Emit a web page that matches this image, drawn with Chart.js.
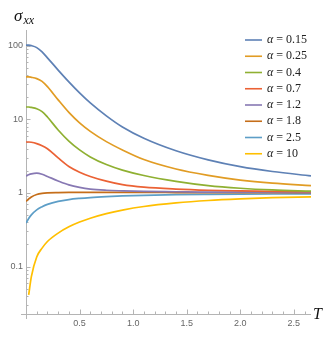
<!DOCTYPE html>
<html>
<head>
<meta charset="utf-8">
<script src="https://cdn.jsdelivr.net/npm/chart.js@4"></script>
<style>
  html, body { margin: 0; padding: 0; background: #fff; }
  #wrap { width: 333px; height: 349px; }
</style>
</head>
<body>
<div id="wrap"><canvas id="chart" width="333" height="349"></canvas></div>
<script>
// --- DATA ---
const T = [0, 0.025, 0.05, 0.1, 0.15, 0.2, 0.3, 0.4, 0.5, 0.6, 0.75, 0.9, 1.1, 1.4, 1.7, 2.0, 2.3, 2.66];

const alphaLabels = ["0.15", "0.25", "0.4", "0.7", "1.2", "1.8", "2.5", "10"];

const sigma015 = [103, 102.5, 101, 95, 83, 69, 47, 32.5, 23, 16.8, 11.2, 7.9, 5.55, 3.75, 2.82, 2.28, 1.96, 1.71];
const sigma025 = [38, 38, 37.5, 36, 33, 28, 18.5, 12.5, 9.0, 6.9, 5.0, 3.85, 2.85, 2.12, 1.74, 1.5, 1.36, 1.26];
const sigma04  = [14.8, 14.8, 14.6, 14, 12.8, 10.8, 7.2, 5.09, 3.86, 3.1, 2.44, 2.05, 1.73, 1.44, 1.26, 1.16, 1.1, 1.06];
const sigma07  = [4.94, 4.94, 4.9, 4.7, 4.4, 4.0, 3.0, 2.3, 1.92, 1.68, 1.45, 1.3, 1.2, 1.13, 1.09, 1.07, 1.055, 1.04];
const sigma12  = [1.7, 1.77, 1.82, 1.86, 1.8, 1.68, 1.46, 1.29, 1.19, 1.13, 1.09, 1.07, 1.05, 1.04, 1.03, 1.03, 1.02, 1.02];
const sigma18  = [0.77, 0.83, 0.885, 0.955, 0.99, 1.005, 1.015, 1.02, 1.02, 1.02, 1.02, 1.02, 1.02, 1.015, 1.01, 1.01, 1.01, 1.01];
const sigma25  = [0.39, 0.45, 0.505, 0.59, 0.65, 0.70, 0.77, 0.815, 0.845, 0.868, 0.893, 0.912, 0.93, 0.948, 0.958, 0.965, 0.97, 0.975];
const sigma10  = [null, 0.041, 0.073, 0.135, 0.178, 0.219, 0.285, 0.347, 0.403, 0.454, 0.524, 0.586, 0.656, 0.733, 0.791, 0.832, 0.863, 0.885];

const colors = ["#5E81B5", "#E19C24", "#8FB032", "#EB6235", "#8778B3", "#C56E1A", "#5D9EC7", "#FFBF00"];

const xTickValues = [0.5, 1.0, 1.5, 2.0, 2.5];
const xTickLabels = ["0.5", "1.0", "1.5", "2.0", "2.5"];
const yTickValues = [0.1, 1, 10, 100];
const yTickLabels = ["0.1", "1", "10", "100"];

const allSeries = [sigma015, sigma025, sigma04, sigma07, sigma12, sigma18, sigma25, sigma10];

// --- AXES, TICKS, LABELS (Mathematica-ish look) ---
const axisPlugin = {
    id: "axisPlugin",
    beforeDatasetsDraw(chart) {
        const { ctx, chartArea: a, scales: { x, y } } = chart;
        ctx.save();
        ctx.strokeStyle = "#b4b4b4";
        ctx.lineWidth = 1;
        // axis lines
        ctx.beginPath();
        ctx.moveTo(a.left - 5, a.bottom + 0.5);
        ctx.lineTo(a.right, a.bottom + 0.5);
        ctx.moveTo(a.left + 0.5, a.top);
        ctx.lineTo(a.left + 0.5, a.bottom + 5);
        ctx.stroke();
        // x ticks, major every 0.5, minor every 0.1
        ctx.beginPath();
        for (let i = 1; i * 0.1 <= x.max + 1e-9; i++) {
            const px = Math.round(x.getPixelForValue(i * 0.1)) + 0.5;
            const len = i % 5 === 0 ? 4.5 : 2.5;
            ctx.moveTo(px, a.bottom);
            ctx.lineTo(px, a.bottom - len);
        }
        // y ticks, major at powers of ten, minor at 2..9
        for (let p = -2; p <= 2; p++) {
            for (let m = 1; m <= 9; m++) {
                const v = m * Math.pow(10, p);
                if (v < y.min || v > y.max) continue;
                const py = Math.round(y.getPixelForValue(v)) + 0.5;
                const len = m === 1 ? 4.5 : 2.5;
                ctx.moveTo(a.left, py);
                ctx.lineTo(a.left + len, py);
            }
        }
        ctx.stroke();
        ctx.restore();
    },
    afterDraw(chart) {
        const { ctx, chartArea: a } = chart;
        ctx.save();
        ctx.fillStyle = "#111";
        ctx.textBaseline = "alphabetic";
        // y title sigma_xx
        ctx.font = "italic 17px 'Liberation Serif'";
        ctx.fillText("σ", 14, 21);
        ctx.font = "italic 12px 'Liberation Serif'";
        ctx.fillText("xx", 23.5, 24);
        // x title T
        ctx.font = "italic 16px 'Liberation Serif'";
        ctx.textBaseline = "middle";
        ctx.fillText("T", 313, a.bottom + 0.5);

        // legend
        const x0 = 245, x1 = 262, yTop = 40, step = 16.25;
        chart.data.datasets.forEach((ds, i) => {
            const yy = yTop + i * step;
            ctx.strokeStyle = ds.borderColor;
            ctx.lineWidth = 1.6;
            ctx.beginPath();
            ctx.moveTo(x0, yy);
            ctx.lineTo(x1, yy);
            ctx.stroke();
            ctx.fillStyle = "#222";
            ctx.font = "italic 12px 'Liberation Serif'";
            ctx.fillText("α", 267, yy);
            const w = ctx.measureText("α").width;
            ctx.font = "12px 'Liberation Serif'";
            ctx.fillText(" = " + alphaLabels[i], 267 + w, yy);
        });
        ctx.restore();
    }
};

// --- CHART ---
const ctx = document.getElementById("chart").getContext("2d");
new Chart(ctx, {
    type: "line",
    data: {
        labels: T,
        datasets: allSeries.map((s, i) => ({
            label: "α = " + alphaLabels[i],
            data: s.map((v, k) => ({ x: T[k], y: v })),
            borderColor: colors[i],
            backgroundColor: colors[i],
            borderWidth: 1.7,
            pointRadius: 0,
            cubicInterpolationMode: "monotone",
            spanGaps: false
        }))
    },
    options: {
        responsive: false,
        animation: false,
        devicePixelRatio: 1,
        layout: { padding: { top: 30, right: 22, left: 0, bottom: 0 } },
        plugins: { legend: { display: false }, tooltip: { enabled: false } },
        scales: {
            x: {
                type: "linear",
                min: 0,
                max: 2.66,
                grid: { display: false, drawTicks: false },
                border: { display: false },
                afterBuildTicks: s => { s.ticks = xTickValues.map(v => ({ value: v })); },
                afterFit: s => { s.height = 35; },
                ticks: {
                    padding: 4,
                    color: "#666",
                    font: { family: "'Liberation Sans'", size: 9 },
                    maxRotation: 0,
                    callback: v => xTickLabels[xTickValues.indexOf(v)] ?? ""
                }
            },
            y: {
                type: "logarithmic",
                min: 0.0226,
                max: 165,
                grid: { display: false, drawTicks: false },
                border: { display: false },
                afterBuildTicks: s => { s.ticks = yTickValues.map(v => ({ value: v })); },
                afterFit: s => { s.width = 26; },
                ticks: {
                    padding: 3,
                    color: "#666",
                    font: { family: "'Liberation Sans'", size: 9 },
                    callback: v => yTickLabels[yTickValues.indexOf(v)] ?? ""
                }
            }
        }
    },
    plugins: [axisPlugin]
});
</script>
</body>
</html>
